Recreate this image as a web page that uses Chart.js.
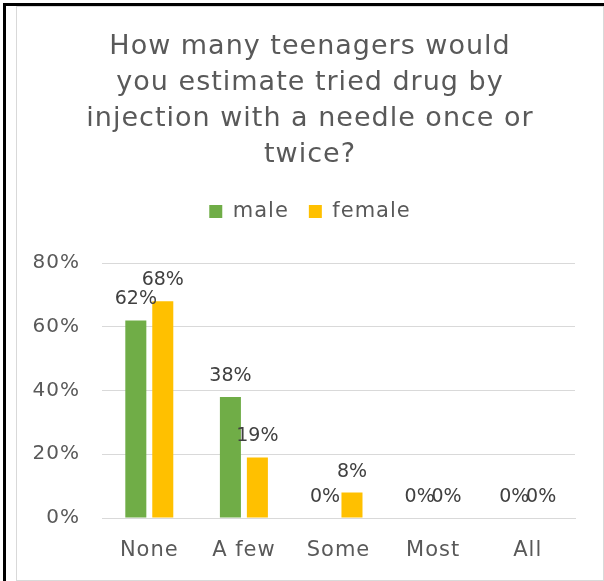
<!DOCTYPE html>
<html>
<head>
<meta charset="utf-8">
<script src="https://cdn.jsdelivr.net/npm/chart.js@4.4.0/dist/chart.umd.min.js"></script>
<style>
  html, body { margin: 0; padding: 0; background: #fff; }
  #frame { position: absolute; left: 3px; top: 3px; width: 610px; height: 600px;
           border-left: 3px solid #000; border-top: 3px solid #000; }
  #box { position: absolute; left: 16px; top: 6px; width: 586px; height: 573px;
         border: 1px solid #d9d9d9; background: #fff; }
</style>
</head>
<body>
<div id="frame"></div>
<div id="box"><canvas id="chart" width="586" height="573"></canvas></div>
<script>
const categories = ['None', 'A few', 'Some', 'Most', 'All'];
const male = [0.62, 0.38, 0, 0, 0];
const female = [0.68, 0.19, 0.08, 0, 0];
const titleLines = ['How many teenagers would', 'you estimate tried drug by', 'injection with a needle once or', 'twice?'];

const FONT = '"DejaVu Sans", sans-serif';

// wider letters, closer to the original font
const spacing = {
    id: 'spacing',
    beforeUpdate(chart) { chart.ctx.letterSpacing = '1px'; },
    afterInit(chart) {
        const lg = chart.legend;
        const fit = lg.fit;
        lg.fit = function() { fit.call(this); this.height = 82; };
    }
};

// draws the percentage above every bar
const barLabels = {
    id: 'barLabels',
    afterDatasetsDraw(chart) {
        const ctx = chart.ctx;
        ctx.save();
        ctx.letterSpacing = '0px';
        ctx.font = '19px ' + FONT;
        ctx.fillStyle = '#404040';
        ctx.textAlign = 'center';
        ctx.textBaseline = 'alphabetic';
        chart.data.datasets.forEach((ds, i) => {
            chart.getDatasetMeta(i).data.forEach((bar, j) => {
                const txt = Math.round(ds.data[j] * 100) + '%';
                ctx.fillText(txt, bar.x, bar.y - 16);
            });
        });
        ctx.restore();
    }
};

new Chart(document.getElementById('chart'), {
    type: 'bar',
    data: {
        labels: categories,
        datasets: [
            { label: 'male', data: male, backgroundColor: '#70AD47', categoryPercentage: 0.57, barPercentage: 0.78 },
            { label: 'female', data: female, backgroundColor: '#FFC000', categoryPercentage: 0.57, barPercentage: 0.78 }
        ]
    },
    options: {
        responsive: false,
        animation: false,
        plugins: {
            title: {
                display: true,
                text: titleLines,
                color: '#595959',
                font: { family: FONT, size: 27, weight: 'normal', lineHeight: '36px' },
                padding: { top: 22, bottom: 8 }
            },
            legend: {
                display: true,
                labels: {
                    color: '#595959',
                    font: { family: FONT, size: 21 },
                    boxWidth: 13,
                    boxHeight: 13,
                    padding: 20
                }
            },
            tooltip: { enabled: false }
        },
        scales: {
            x: {
                grid: { display: false, drawTicks: false },
                border: { display: true, color: '#d9d9d9' },
                ticks: { color: '#595959', font: { family: FONT, size: 21 }, padding: 20 },
                afterFit(scale) { scale.height = 62; }
            },
            y: {
                min: 0,
                max: 0.8,
                grid: { color: '#d9d9d9', drawTicks: false },
                border: { display: false },
                ticks: {
                    stepSize: 0.2,
                    color: '#595959',
                    font: { family: FONT, size: 20 },
                    padding: 22,
                    callback: v => Math.round(v * 100) + '%'
                },
                afterFit(scale) { scale.width = 85; }
            },
            // empty right axis, only keeps space at the right of the plot
            yRight: {
                position: 'right',
                min: 0,
                max: 1,
                grid: { display: false, drawTicks: false },
                border: { display: false },
                ticks: { display: false },
                afterFit(scale) { scale.width = 28; }
            }
        }
    },
    plugins: [spacing, barLabels]
});
</script>
</body>
</html>
